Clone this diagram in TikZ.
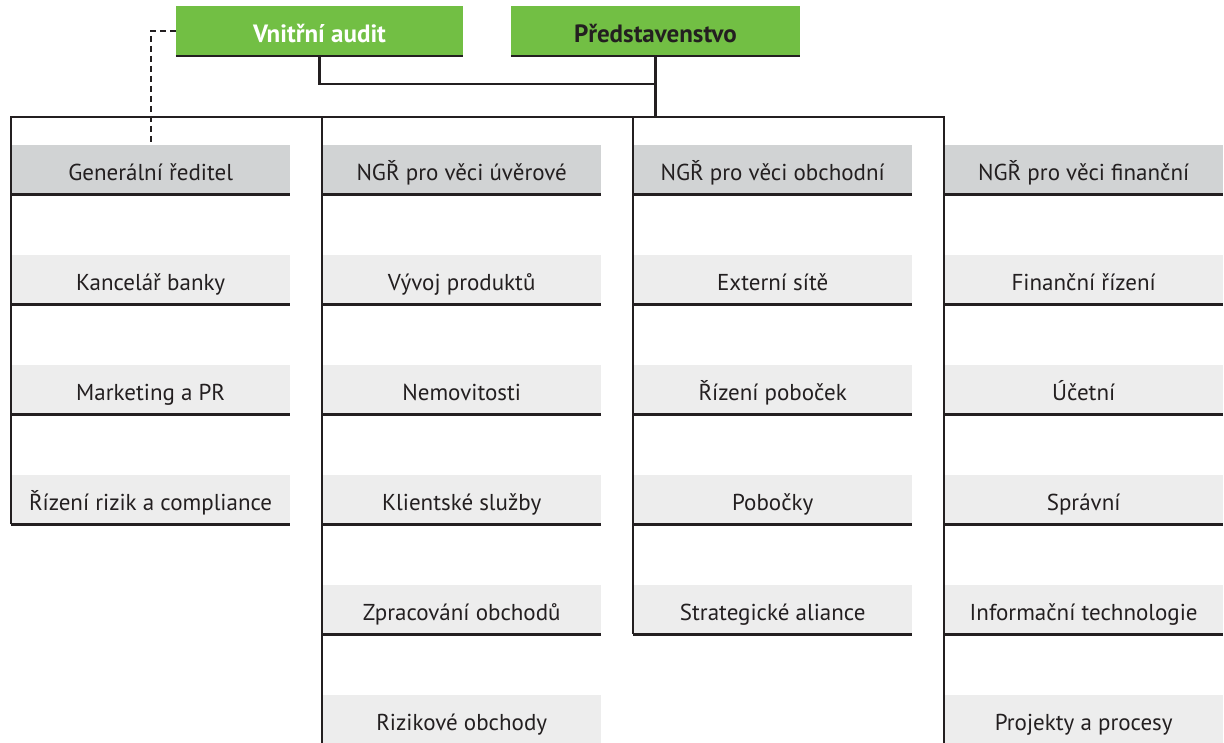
\documentclass[tikz,border=0pt]{standalone}
\usepackage{fontspec}
\setmainfont{PT Sans}
\definecolor{OrgGreen}{HTML}{72BF44}
\definecolor{OrgHead}{HTML}{D1D3D4}
\definecolor{OrgUnit}{HTML}{EDEDED}
\definecolor{OrgInk}{HTML}{231F20}
\newcommand\orgfont{\fontsize{23pt}{27pt}\selectfont}
\newcommand\orgbold{\fontsize{25pt}{29pt}\selectfont\bfseries}

\begin{document}
\begin{tikzpicture}[x=1pt,y=-1pt,
    rule/.style={draw=OrgInk,line width=2.4pt},
    auditlink/.style={draw=OrgInk,line width=2.4pt,dash pattern=on 6pt off 4pt},
    topbox/.style={fill=OrgGreen,font=\orgbold,minimum width=287pt,minimum height=50pt,inner sep=0pt,text height=26pt,text depth=4pt}]
    \useasboundingbox (0,0) rectangle (1224,742);
    \node[topbox,text=white] (audit) at (319.5,31) {Vnitřní audit};
    \node[topbox,text=OrgInk,minimum width=289pt] (board) at (655.5,31) {Představenstvo};
    \coordinate (bus) at (0,117);
    \matrix (org) [anchor=north west,inner sep=0pt,column sep=32pt,row sep=61pt,nodes={fill=OrgUnit,text=OrgInk,font=\orgfont,anchor=center,minimum width=279pt,minimum height=49pt,inner sep=0pt,text height=26pt,text depth=4pt}] at (11,145) {
      \node[fill=OrgHead] (gr) {Generální ředitel}; & \node[fill=OrgHead] (ngru) {NGŘ pro věci úvěrové}; & \node[fill=OrgHead] (ngro) {NGŘ pro věci obchodní}; & \node[fill=OrgHead] (ngrf) {NGŘ pro věci finanční}; \\
      \node (kb) {Kancelář banky}; & \node (vp) {Vývoj produktů}; & \node (es) {Externí sítě}; & \node (fr) {Finanční řízení}; \\
      \node (mpr) {Marketing a PR}; & \node (nem) {Nemovitosti}; & \node (rp) {Řízení poboček}; & \node (uc) {Účetní}; \\
      \node (rrc) {Řízení rizik a compliance}; & \node (ks) {Klientské služby}; & \node (pob) {Pobočky}; & \node (spr) {Správní}; \\
      & \node (zo) {Zpracování obchodů}; & \node (sa) {Strategické aliance}; & \node (it) {Informační technologie}; \\
      & \node (ro) {Rizikové obchody}; & & \node (pp) {Projekty a procesy}; \\
    };
    % underlines of all boxes
    \foreach \unit in {audit,board,gr,kb,mpr,rrc,ngru,vp,nem,ks,zo,ro,ngro,es,rp,pob,sa,ngrf,fr,uc,spr,it,pp}
      \draw[rule] (\unit.south west) -- (\unit.south east);
    % connectors
    \draw[rule] (audit.south) -- ++(0,28) -| (board.south);
    \draw[rule] (board.south) -- (board.south |- bus);
    \draw[rule] (rrc.south west) -- (gr.north west |- bus) -- (ngrf.north west |- bus) -- (pp.south west);
    \draw[rule] (ngru.north west |- bus) -- (ro.south west);
    \draw[rule] (ngro.north west |- bus) -- (sa.south west);
    \draw[auditlink] (audit.west) -| (gr.north);
  \end{tikzpicture}
\end{document}
